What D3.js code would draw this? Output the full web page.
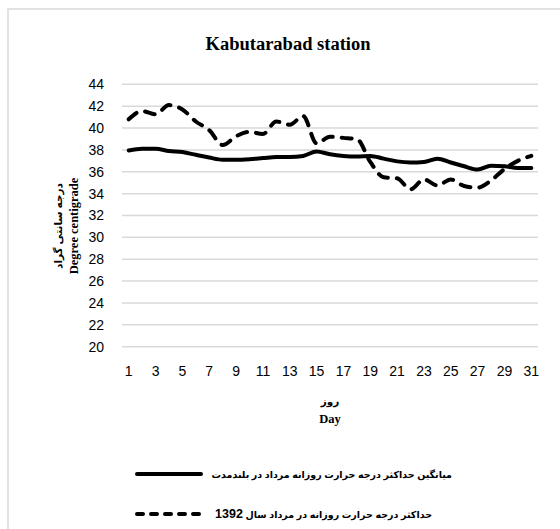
<!DOCTYPE html>
<html><head><meta charset="utf-8">
<script src="https://cdn.jsdelivr.net/npm/d3@7"></script>
<style>html,body{margin:0;padding:0;background:#fff;}</style>
</head><body>
<svg id="c" width="560" height="529"></svg>
<script>
const days = [1,2,3,4,5,6,7,8,9,10,11,12,13,14,15,16,17,18,19,20,21,22,23,24,25,26,27,28,29,30,31];
const longTermMean = [37.95,38.1,38.1,37.9,37.8,37.55,37.3,37.1,37.1,37.15,37.25,37.35,37.35,37.45,37.85,37.6,37.45,37.4,37.45,37.2,36.95,36.85,36.9,37.2,36.85,36.5,36.2,36.55,36.5,36.35,36.35];
const max1392 = [40.8,41.55,41.25,42.1,41.7,40.6,39.8,38.45,39.25,39.65,39.45,40.6,40.3,41.1,38.6,39.2,39.1,39.0,36.9,35.5,35.4,34.4,35.3,34.75,35.3,34.7,34.55,35.2,36.25,37.0,37.45];
const yTicks = [20,22,24,26,28,30,32,34,36,38,40,42,44];
const xTickDays = [1,3,5,7,9,11,13,15,17,19,21,23,25,27,29,31];
const titleText = "Kabutarabad station";
const yTitleFa = "درجه سانتی گراد";
const yTitleEn = "Degree centigrade";
const xTitleFa = "روز";
const xTitleEn = "Day";
const legendMean = "میانگین حداکثر درجه حرارت روزانه مرداد در بلندمدت";
const legend1392Text = "حداکثر درجه حرارت روزانه در  مرداد سال ";
const legend1392Year = "1392";

const svg = d3.select("#c");
const sans = "'Liberation Sans','DejaVu Sans',Arial,sans-serif";
const serif = "'Liberation Serif','DejaVu Serif',serif";

// outer border
svg.append("rect").attr("x",8).attr("y",9).attr("width",620).attr("height",620)
  .attr("fill","none").attr("stroke","#d9d9d9").attr("stroke-width",1.5);

const x = d3.scaleBand().domain(days).range([122,538]);
const y = d3.scaleLinear().domain([20,44]).range([346.7,84.3]);
const cx = d => x(d) + x.bandwidth()/2;

// gridlines
svg.append("g").selectAll("line").data(yTicks).join("line")
  .attr("x1",122).attr("x2",538).attr("y1",d=>y(d)).attr("y2",d=>y(d))
  .attr("stroke","#d9d9d9").attr("stroke-width",1.5);

// y axis labels
const yAxis = d3.axisLeft(y).tickValues(yTicks).tickSize(0).tickPadding(0);
const gy = svg.append("g").attr("transform","translate(104,0)").call(yAxis);
gy.select(".domain").remove();
gy.selectAll("text").attr("font-family",sans).attr("font-size",14).attr("fill","#000");

// x axis labels
const xAxis = d3.axisBottom(x).tickValues(xTickDays).tickSize(0).tickPadding(0);
const gx = svg.append("g").attr("transform","translate(0,366)").call(xAxis);
gx.select(".domain").remove();
gx.selectAll("text").attr("font-family",sans).attr("font-size",14).attr("fill","#000");

// lines
const line = d3.line().x((d,i)=>cx(days[i])).y(d=>y(d)).curve(d3.curveMonotoneX);
svg.append("path").attr("d",line(longTermMean)).attr("fill","none").attr("stroke","#000")
  .attr("stroke-width",4).attr("stroke-linejoin","round").attr("stroke-linecap","round");
svg.append("path").attr("d",line(max1392)).attr("fill","none").attr("stroke","#000")
  .attr("stroke-width",4).attr("stroke-dasharray","10,9").attr("stroke-linecap","round").attr("stroke-linejoin","round");

// title
svg.append("text").attr("x",288).attr("y",50).attr("text-anchor","middle")
  .attr("font-family",serif).attr("font-weight","bold").attr("font-size",18.5).text(titleText);

// y title
const yt = svg.append("g").attr("transform","translate(0,226) rotate(-90)");
yt.append("text").attr("x",0).attr("y",62).attr("text-anchor","middle")
  .attr("font-family",sans).attr("font-weight","bold").attr("font-size",10.5).text(yTitleFa);
yt.append("text").attr("x",0).attr("y",78).attr("text-anchor","middle")
  .attr("font-family",serif).attr("font-weight","bold").attr("font-size",12.5).text(yTitleEn);

// x title
svg.append("text").attr("x",330).attr("y",405).attr("text-anchor","middle")
  .attr("font-family",sans).attr("font-weight","bold").attr("font-size",10.5).text(xTitleFa);
svg.append("text").attr("x",330).attr("y",423).attr("text-anchor","middle")
  .attr("font-family",serif).attr("font-weight","bold").attr("font-size",12.5).text(xTitleEn);

// legend
svg.append("line").attr("x1",137).attr("x2",201).attr("y1",474).attr("y2",474)
  .attr("stroke","#000").attr("stroke-width",4).attr("stroke-linecap","round");
svg.append("line").attr("x1",137).attr("x2",205).attr("y1",514).attr("y2",514)
  .attr("stroke","#000").attr("stroke-width",4).attr("stroke-linecap","round").attr("stroke-dasharray","6,8");
svg.append("text").attr("x",452).attr("y",477.5).attr("direction","rtl").attr("text-anchor","start")
  .attr("font-family",sans).attr("font-weight","bold").attr("font-size",9.5).text(legendMean);
const t2 = svg.append("text").attr("x",432).attr("y",518).attr("direction","rtl").attr("text-anchor","start")
  .attr("font-family",sans).attr("font-weight","bold").attr("font-size",9.5);
t2.append("tspan").text(legend1392Text);
t2.append("tspan").attr("font-size",12.5).text(legend1392Year);
</script>
</body></html>
